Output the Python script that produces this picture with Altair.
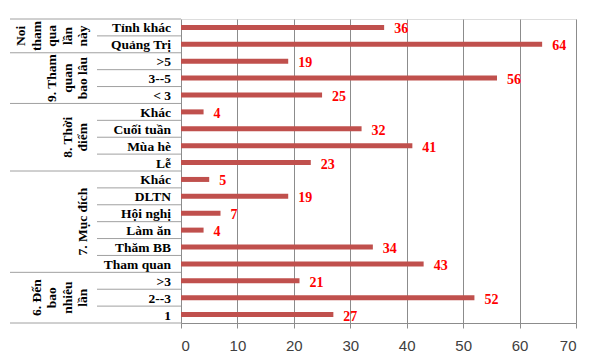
import altair as alt
import pandas as pd

# ---- data (top to bottom) ----
cat_labels = ["Tỉnh khác", "Quảng Trị", ">5", "3--5", "< 3",
              "Khác", "Cuối tuần", "Mùa hè", "Lễ",
              "Khác", "DLTN", "Hội nghị", "Làm ăn", "Thăm BB", "Tham quan",
              ">3", "2--3", "1"]
values = [36, 64, 19, 56, 25, 4, 32, 41, 23, 5, 19, 7, 4, 34, 43, 21, 52, 27]
group_names = ["Noi\ntham\nqua\nlần\nnày", "9. Tham\nquan\nbao lâu",
               "8. Thời\nđiểm", "7. Mục đích", "6. Đến\nbao\nnhiêu\nlần"]
group_sizes = [2, 3, 4, 6, 3]
x_ticks = [0, 10, 20, 30, 40, 50, 60, 70]

n = len(cat_labels)
rows = pd.DataFrame({"label": cat_labels, "value": values,
                     "pos": [i + 0.5 for i in range(n)]})

bounds = [0]
for s in group_sizes:
    bounds.append(bounds[-1] + s)
groups = pd.DataFrame({"gid": list(range(len(group_names))), "name": group_names,
                       "mid": [(bounds[i] + bounds[i + 1]) / 2 for i in range(len(group_sizes))]})
seps = pd.DataFrame({"b": list(range(n + 1)),
                     "outer": [b in bounds for b in range(n + 1)]})

FONT = "Liberation Serif"
LINE_H = 15.5
yscale = alt.Scale(domain=[0, n], reverse=True, nice=False, zero=False)
xscale = alt.Scale(domain=[0, 70], nice=False)

base = alt.Chart(rows)

bars = base.mark_rule(color="#C0504D", strokeWidth=5, strokeCap="butt").encode(
    x=alt.X("value:Q", scale=xscale,
            axis=alt.Axis(values=x_ticks, title=None, grid=True, gridColor="#8c8c8c",
                          domainColor="#8c8c8c", tickColor="#8c8c8c", tickSize=5,
                          labelFont="Liberation Sans", labelFontSize=15,
                          labelColor="#404040", labelPadding=10)),
    x2=alt.datum(0),
    y=alt.Y("pos:Q", scale=yscale, axis=None),
)

vals = base.mark_text(align="left", baseline="middle", dx=10, dy=2, font=FONT,
                      fontWeight="bold", fontSize=14, color="#FF0000").encode(
    x="value:Q", y=alt.Y("pos:Q", scale=yscale), text="value:Q")

cats = base.mark_text(align="right", baseline="middle", dy=1, font=FONT,
                      fontWeight="bold", fontSize=13.5, color="#000000").encode(
    x=alt.value(-10), y=alt.Y("pos:Q", scale=yscale), text="label:N")

sep_inner = alt.Chart(seps).transform_filter("!datum.outer").mark_rule(
    color="#a0a0a0", strokeWidth=1).encode(
    y=alt.Y("b:Q", scale=yscale), x=alt.value(-84), x2=alt.value(0))
sep_outer = alt.Chart(seps).transform_filter("datum.outer").mark_rule(
    color="#a0a0a0", strokeWidth=1).encode(
    y=alt.Y("b:Q", scale=yscale), x=alt.value(-171), x2=alt.value(0))

glayers = []
for gid, name in enumerate(group_names):
    nlines = len(name.split("\n"))
    glayers.append(
        alt.Chart(groups).transform_filter(f"datum.gid == {gid}").mark_text(
            angle=270, align="center", baseline="bottom", lineBreak="\n",
            lineHeight=LINE_H, font=FONT, fontWeight="bold", fontSize=13.5,
            color="#000000").encode(
            x=alt.value(-91 - (nlines - 1) * LINE_H),
            y=alt.Y("mid:Q", scale=yscale), text="name:N")
    )

chart = alt.layer(bars, vals, cats, sep_inner, sep_outer, *glayers).properties(
    width=395, height=304,
    autosize=alt.AutoSizeParams(type="none"),
    padding={"left": 181, "top": 19, "right": 14, "bottom": 39},
).configure_view(stroke=None).configure(background="white")

chart.save("out.html", embed_options={"renderer": "svg", "actions": False})
